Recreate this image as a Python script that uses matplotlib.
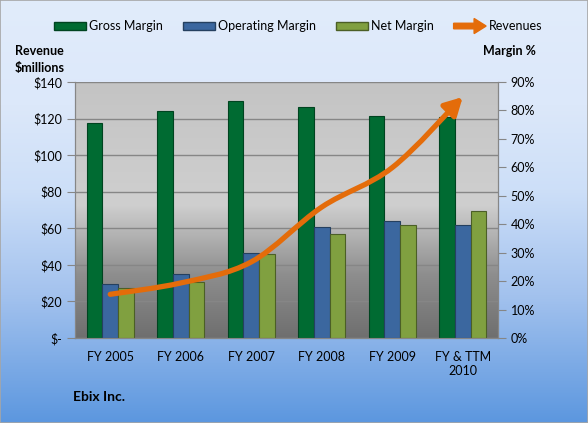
import numpy as np
import matplotlib.pyplot as plt
import matplotlib.patches as mpatches
from matplotlib.path import Path
from matplotlib.colors import LinearSegmentedColormap
from matplotlib.legend_handler import HandlerPatch
from matplotlib.ticker import FuncFormatter

plt.rcParams['font.family'] = ['Lato', 'DejaVu Sans']

# Datos
years = ['FY 2005', 'FY 2006', 'FY 2007', 'FY 2008', 'FY 2009', 'FY & TTM\n2010']
gross_margin = [75.6, 79.8, 83.3, 81.2, 78.2, 77.7]
operating_margin = [19.1, 22.6, 29.9, 39.0, 41.1, 39.9]
net_margin = [17.6, 19.7, 29.4, 36.5, 39.6, 44.6]
revenues = [23.9, 30.1, 41.6, 71.6, 93.2, 131.8]

GREEN = '#006b32'
BLUE = '#3b679f'
OLIVE = '#80a040'
ORANGE = '#e46c0a'
GRID = '#868686'


# Curva suavizada (estilo Excel) como Path de Bezier
def smooth_path(xs, ys):
    p = np.column_stack([xs, ys]).astype(float)
    n = len(p)
    ext = np.vstack([p[0], p, p[-1]])
    verts = [tuple(p[0])]
    codes = [Path.MOVETO]
    for i in range(n - 1):
        a, b, c, d = ext[i], ext[i + 1], ext[i + 2], ext[i + 3]
        c1 = b + (c - a) / 6
        c2 = c - (d - b) / 6
        verts += [tuple(c1), tuple(c2), tuple(c)]
        codes += [Path.CURVE4] * 3
    return Path(verts, codes)


def make_legend_arrow(legend, orig_handle, xdescent, ydescent, width, height, fontsize):
    return mpatches.FancyArrow(0, height / 2, width, 0, width=height * 0.7,
                               head_width=height * 1.9, head_length=width * 0.37,
                               length_includes_head=True, color=ORANGE, lw=0)


fig = plt.figure(figsize=(5.88, 4.23), dpi=100)

# Fondo degradado de la figura
bg = fig.add_axes([0, 0, 1, 1], zorder=-10)
bg_cmap = LinearSegmentedColormap.from_list(
    'bg', [(0, '#5c97df'), (0.3, '#a3c2ee'), (0.55, '#cddff8'), (0.75, '#dce8fa'), (1, '#e1ecfb')])
bg.imshow(np.linspace(0, 1, 256).reshape(-1, 1), extent=[0, 1, 0, 1], origin='lower',
          aspect='auto', cmap=bg_cmap)
bg.add_patch(mpatches.Rectangle((0, 0), 1, 1, fill=False, ec='#a6a6a6', lw=1.2,
                                transform=bg.transAxes))
bg.set_xlim(0, 1)
bg.set_ylim(0, 1)
bg.axis('off')

ax = fig.add_axes([75 / 588, 1 - 338 / 423, 423 / 588, 256 / 423])
ax2 = ax.twinx()

# Fondo del area de trazado
pa_cmap = LinearSegmentedColormap.from_list(
    'pa', [(0, '#6f6f6f'), (0.25, '#8e8e8e'), (0.52, '#cfcfcf'), (1, '#c4c4c4')])
ax.imshow(np.linspace(0, 1, 256).reshape(-1, 1), extent=[0, 1, 0, 1], origin='lower',
          aspect='auto', cmap=pa_cmap, transform=ax.transAxes, zorder=0)

x = np.arange(len(years))
ax.set_xlim(-0.5, len(years) - 0.5)
ax.set_ylim(0, 140)
ax.set_yticks(range(0, 141, 20))
ax.yaxis.set_major_formatter(FuncFormatter(lambda v, _: '$-' if v == 0 else f'${v:.0f}'))
ax.set_axisbelow('line')
ax.yaxis.grid(True, color=GRID, lw=1)
ax.set_xticks(x)
ax.set_xticklabels(years, fontsize=9)
ax.tick_params(axis='x', length=0, pad=9)
ax.tick_params(axis='y', length=6, color=GRID, labelsize=9, pad=3)

ax2.set_ylim(0, 90)
ax2.set_yticks(range(0, 91, 10))
ax2.yaxis.set_major_formatter(FuncFormatter(lambda v, _: f'{v:.0f}%'))
ax2.tick_params(axis='y', length=6, color=GRID, labelsize=9, pad=3)

for a in (ax, ax2):
    a.spines['top'].set_visible(False)
    for s in ('left', 'right', 'bottom'):
        a.spines[s].set_color(GRID)

# Barras de margen (eje derecho)
w = 0.22
ax2.bar(x - w, gross_margin, w, color=GREEN, edgecolor='#004420', lw=0.8, zorder=2)
ax2.bar(x, operating_margin, w, color=BLUE, edgecolor='#25405f', lw=0.8, zorder=2)
ax2.bar(x + w, net_margin, w, color=OLIVE, edgecolor='#4b5f26', lw=0.8, zorder=2)

# Linea de ingresos (eje izquierdo) con flecha
arrow = mpatches.FancyArrowPatch(path=smooth_path(x, revenues),
                                 arrowstyle='-|>,head_length=0.55,head_width=0.3',
                                 mutation_scale=19, color=ORANGE, lw=3.8,
                                 transform=ax.transData, zorder=5)
ax2.add_patch(arrow)
ax2.set_xlim(-0.5, len(years) - 0.5)

# Textos
fig.text(15 / 588, 1 - 51 / 423, 'Revenue', fontsize=9, weight='bold', va='center')
fig.text(15 / 588, 1 - 68 / 423, '$millions', fontsize=9, weight='bold', va='center')
fig.text(536 / 588, 1 - 51 / 423, 'Margin %', fontsize=9, weight='bold', va='center', ha='right')
fig.text(73 / 588, 1 - 397 / 423, 'Ebix Inc.', fontsize=10, weight='bold', va='center')

# Leyenda
arrow_handle = mpatches.Patch(color=ORANGE)
handles = [mpatches.Patch(facecolor=GREEN, edgecolor='#004420'),
           mpatches.Patch(facecolor=BLUE, edgecolor='#25405f'),
           mpatches.Patch(facecolor=OLIVE, edgecolor='#4b5f26'),
           arrow_handle]
labels = ['Gross Margin', 'Operating Margin', 'Net Margin', 'Revenues']
fig.legend(handles, labels, loc='center', bbox_to_anchor=(298 / 588, 1 - 26 / 423), ncol=4,
           frameon=False, fontsize=9, handlelength=2.6, handleheight=0.6,
           columnspacing=1.6, handletextpad=0.2,
           handler_map={arrow_handle: HandlerPatch(patch_func=make_legend_arrow)})

fig.savefig('out.png', dpi=100)
